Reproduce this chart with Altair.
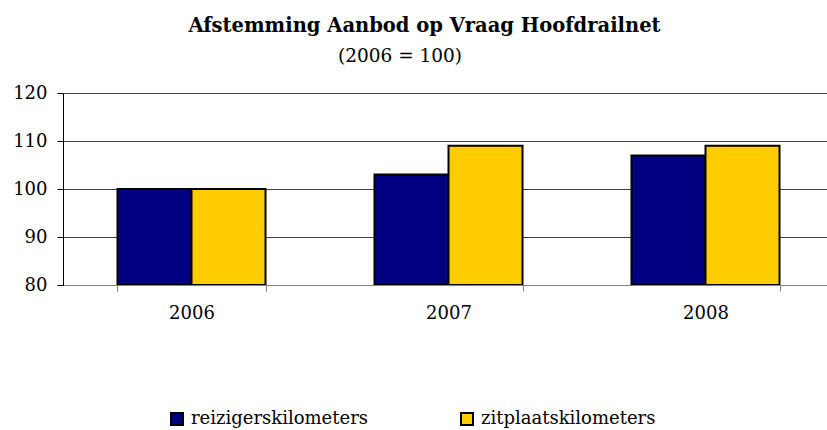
import altair as alt
import pandas as pd

years = ["2006", "2007", "2008"]
series = ["reizigerskilometers", "zitplaatskilometers"]
reizigers = [100, 103, 107]
zitplaats = [100, 109, 109]
colors = ["#000080", "#FFCC00"]
y_ticks = [80, 90, 100, 110, 120]
title_text = ["Afstemming Aanbod op Vraag Hoofdrailnet"]
subtitle_text = ["(2006 = 100)"]

rows = []
for i, yr in enumerate(years):
    rows.append({"jaar": yr, "reeks": series[0], "waarde": reizigers[i]})
    rows.append({"jaar": yr, "reeks": series[1], "waarde": zitplaats[i]})
df = pd.DataFrame(rows)

FONT = "DejaVu Serif"

bars = alt.Chart(df).mark_bar(stroke="black", strokeWidth=2, clip=True).encode(
    x=alt.X("jaar:N", sort=years,
            scale=alt.Scale(range=[0, 771], paddingInner=0.424, paddingOuter=0.212),
            axis=alt.Axis(title=None, labelAngle=0, tickBand="extent", tickSize=6,
                          tickColor="#808080", domainColor="#808080", grid=False,
                          labelFont=FONT, labelFontSize=18, labelColor="black",
                          labelPadding=13)),
    xOffset=alt.XOffset("reeks:N", sort=series, scale=alt.Scale(paddingInner=0, paddingOuter=0)),
    y=alt.Y("waarde:Q", scale=alt.Scale(domain=[80, 120], nice=False, zero=False),
            axis=alt.Axis(title=None, values=y_ticks, tickSize=6, tickColor="black",
                          domainColor="black", gridColor="#404040", gridOpacity=1,
                          labelFont=FONT, labelFontSize=18, labelColor="black",
                          labelPadding=10)),
    y2=alt.datum(80),
    fill=alt.Color("reeks:N", sort=series,
                   scale=alt.Scale(domain=series, range=colors),
                   legend=alt.Legend(title=None, orient="none", legendX=105, legendY=317,
                                     direction="horizontal", symbolType="square",
                                     symbolSize=144, symbolStrokeColor="black",
                                     symbolStrokeWidth=2, symbolOpacity=1,
                                     labelFont=FONT, labelFontSize=18, labelColor="black",
                                     labelLimit=0, columnPadding=89, labelOffset=5)),
)

title = alt.Chart(pd.DataFrame({"t": title_text})).mark_text(
    font=FONT, fontSize=19.5, fontWeight="bold", color="black",
    align="center", baseline="alphabetic"
).encode(text="t:N", x=alt.value(361.5), y=alt.value(-61))

subtitle = alt.Chart(pd.DataFrame({"t": subtitle_text})).mark_text(
    font=FONT, fontSize=18.5, color="black",
    align="center", baseline="alphabetic"
).encode(text="t:N", x=alt.value(337), y=alt.value(-31))

chart = alt.layer(bars, title, subtitle).properties(
    width=764, height=192,
    autosize=alt.AutoSizeParams(type="none"),
    padding={"left": 63, "top": 93, "right": 0, "bottom": 145},
).configure_view(stroke=None).configure(background="white")

chart.save("out.html", embed_options={"renderer": "svg", "actions": False})
